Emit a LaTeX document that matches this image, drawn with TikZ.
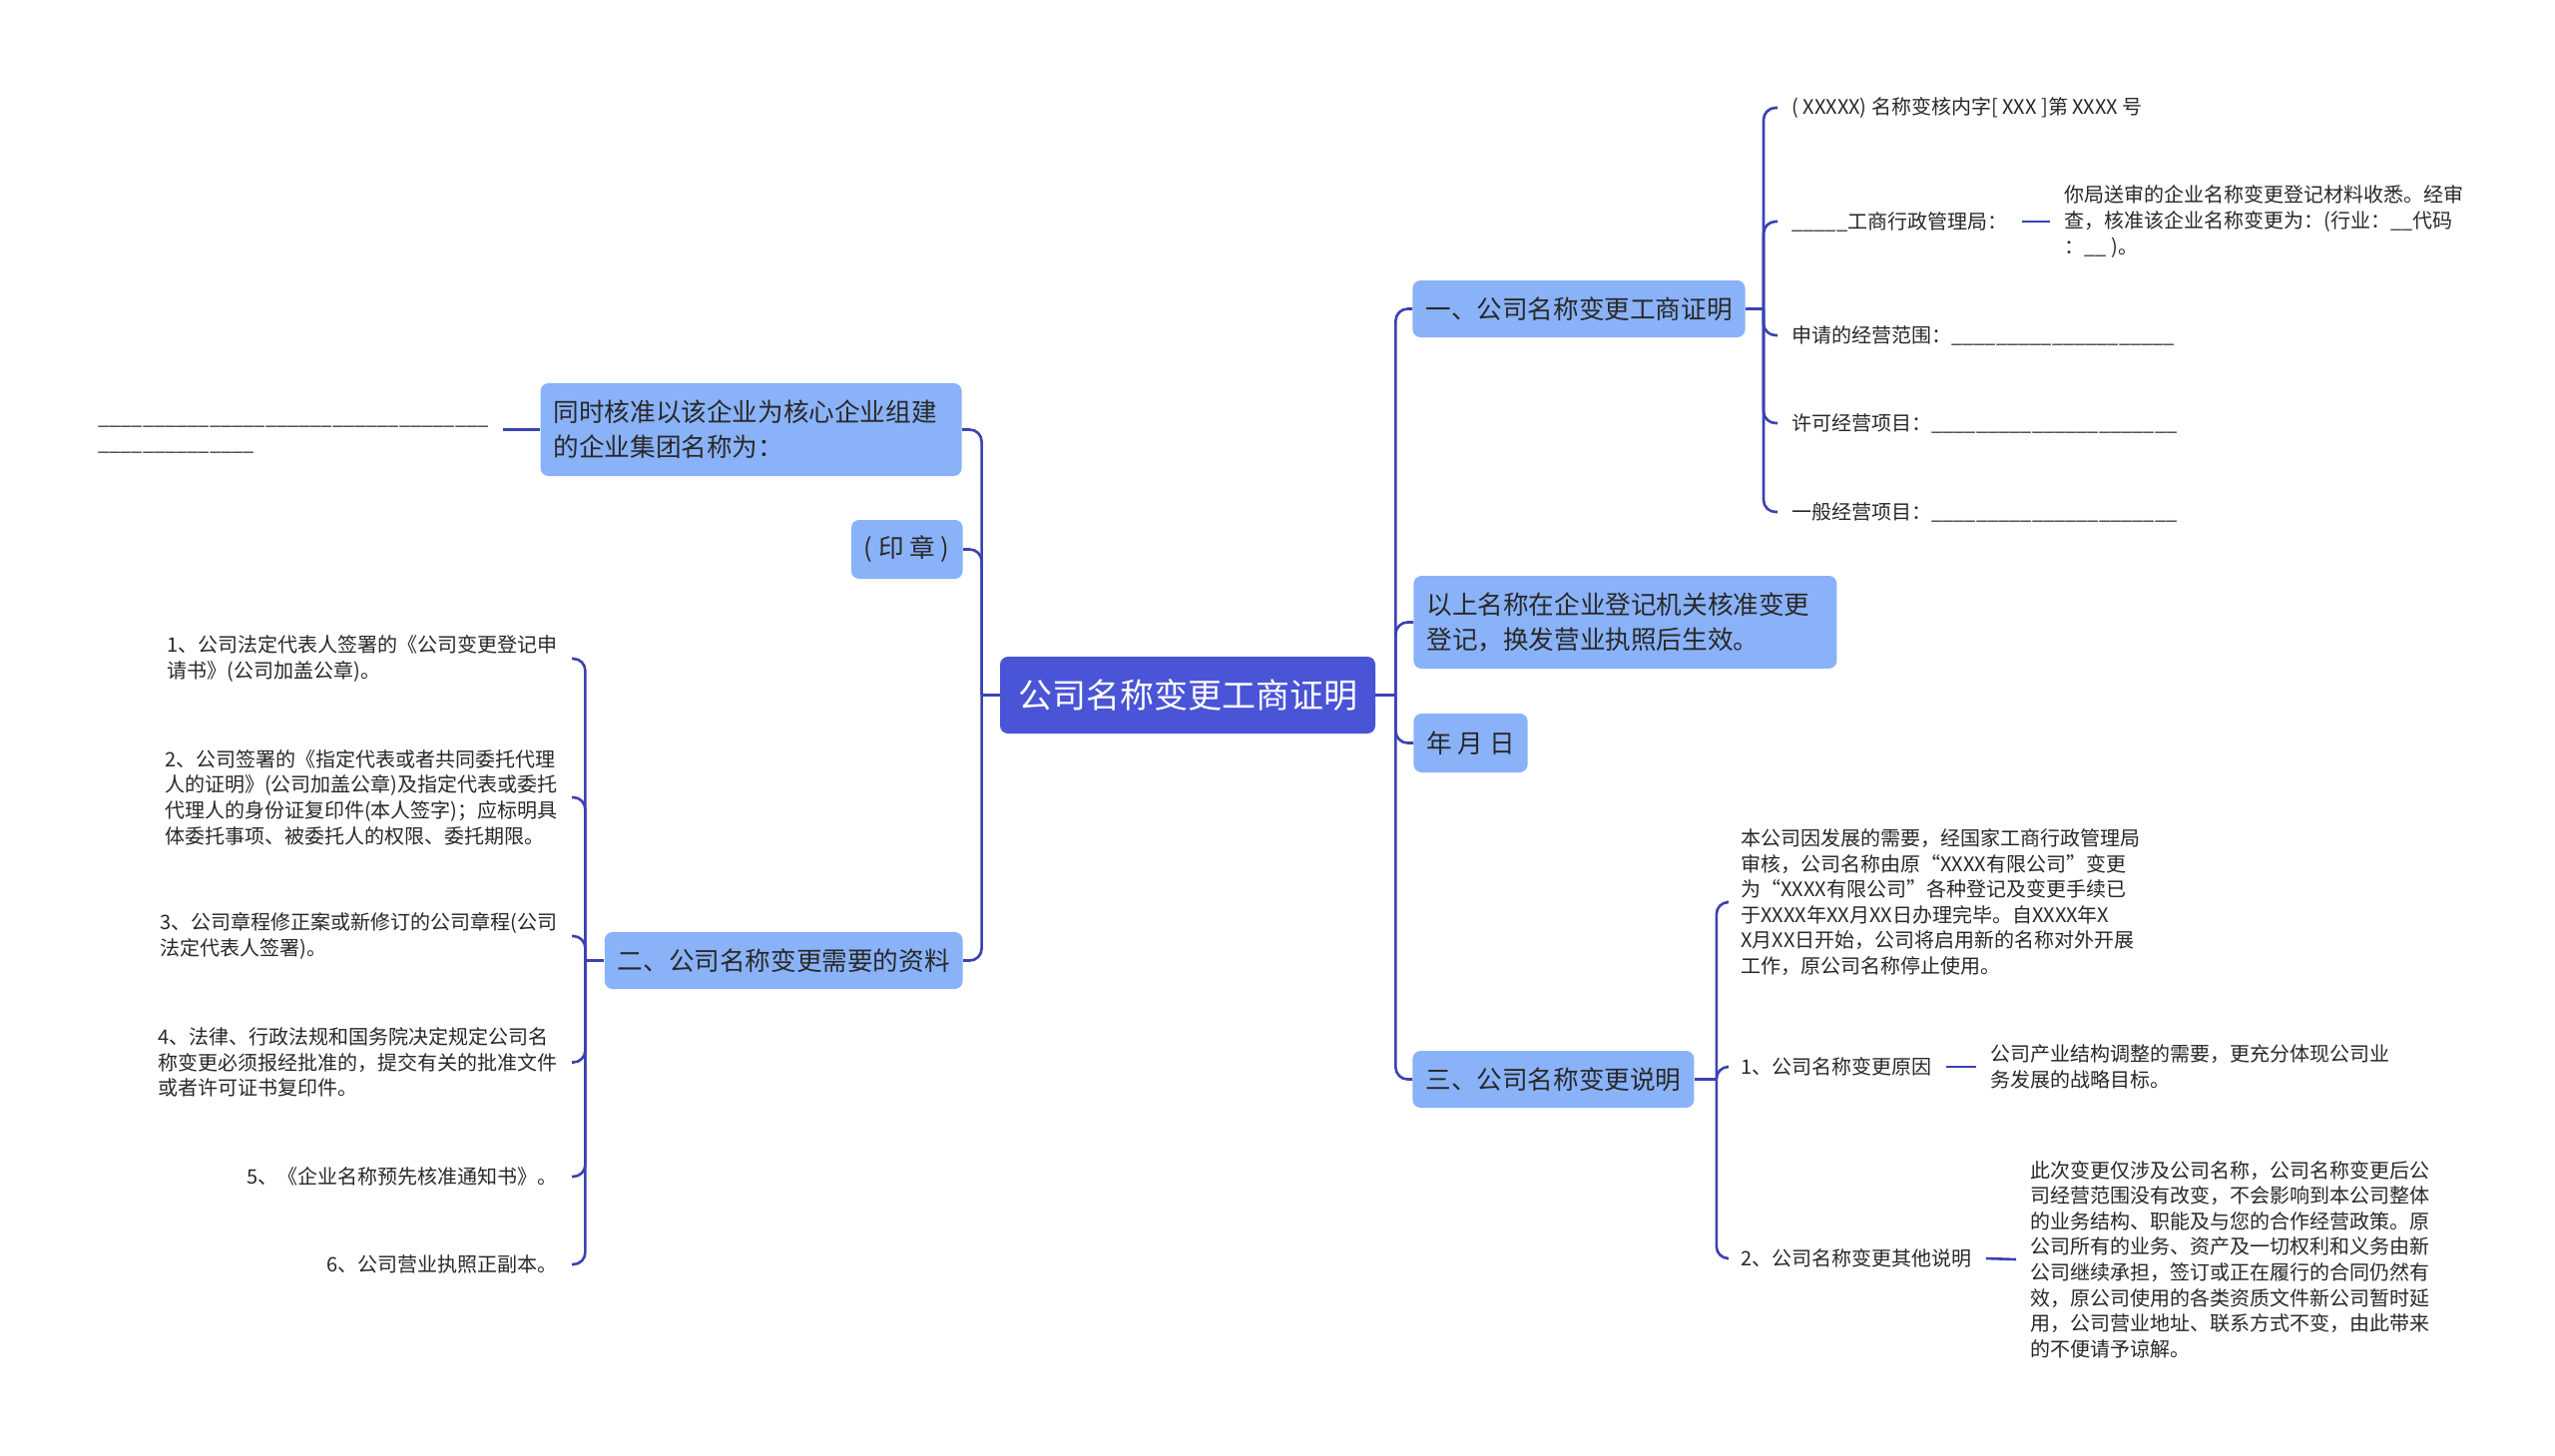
\documentclass[tikz,border=0pt]{standalone}
\usepackage{fontspec}
\setmainfont{Noto Sans CJK SC}
\usetikzlibrary{calc}
\definecolor{rootc}{RGB}{74,84,214}
\definecolor{lvc}{RGB}{138,178,248}
\definecolor{linec}{RGB}{58,66,178}
\definecolor{txt}{RGB}{40,40,40}
\begin{document}
\begin{tikzpicture}[x=0.5pt,y=-0.5pt,
 conn/.style={draw=linec, line width=1.3pt, rounded corners=6pt},
 rootbox/.style={fill=rootc, text=white, rounded corners=4pt, font=\fontsize{17pt}{20pt}\selectfont, minimum width=188pt, minimum height=38.5pt, inner sep=0pt},
 lvbox/.style={fill=lvc, text=txt, rounded corners=4pt, font=\fontsize{12.8pt}{17.5pt}\selectfont, align=left, inner xsep=6.5pt, inner ysep=2pt, minimum height=28.5pt},
 leaf/.style={text=txt, font=\fontsize{10pt}{12.8pt}\selectfont, align=left, inner xsep=7pt, inner ysep=2pt}
]
\fill[white] (0,0) rectangle (2560,1458);
\useasboundingbox (0,0) rectangle (2560,1458);

% root
\node[rootbox] (root) at (1190,696.5) {公司名称变更工商证明};

% right level 1
\node[lvbox, anchor=west] (n1) at (1415,309.5) {一、公司名称变更工商证明};
\node[lvbox, anchor=west, text width=199pt, minimum height=46.5pt] (n2) at (1416,623.5) {以上名称在企业登记机关核准变更\\登记，换发营业执照后生效。};
\node[lvbox, anchor=west, minimum height=29.5pt] (n3) at (1416,744.5) {年 月 日};
\node[lvbox, anchor=west] (n4) at (1415,1081.5) {三、公司名称变更说明};

% left level 1
\node[lvbox, anchor=east, text width=198pt, minimum height=46.5pt] (m1) at (964,430.5) {同时核准以该企业为核心企业组建\\的企业集团名称为：};
\node[lvbox, anchor=east, minimum height=29.5pt] (m2) at (965,550.5) {( 印 章 )};
\node[lvbox, anchor=east] (m3) at (965,962.5) {二、公司名称变更需要的资料};

% leaves of n1
\node[leaf, anchor=west] (a1) at (1781,108) {( XXXXX) 名称变核内字[ XXX ]第 XXXX 号};
\node[leaf, anchor=west] (a2) at (1781,222) {\_\_\_\_\_工商行政管理局：};
\node[leaf, anchor=west] (a2d) at (2054,222) {你局送审的企业名称变更登记材料收悉。经审\\查，核准该企业名称变更为：(行业：\_\_代码\\：\_\_ )。};
\node[leaf, anchor=west] (a3) at (1781,336) {申请的经营范围：\_\_\_\_\_\_\_\_\_\_\_\_\_\_\_\_\_\_\_\_};
\node[leaf, anchor=west] (a4) at (1781,424) {许可经营项目：\_\_\_\_\_\_\_\_\_\_\_\_\_\_\_\_\_\_\_\_\_\_};
\node[leaf, anchor=west] (a5) at (1781,513) {一般经营项目：\_\_\_\_\_\_\_\_\_\_\_\_\_\_\_\_\_\_\_\_\_\_};

% leaves of n4
\node[leaf, anchor=west] (b1) at (1730,904) {本公司因发展的需要，经国家工商行政管理局\\审核，公司名称由原“XXXX有限公司”变更\\为“XXXX有限公司”各种登记及变更手续已\\于XXXX年XX月XX日办理完毕。自XXXX年X\\X月XX日开始，公司将启用新的名称对外开展\\工作，原公司名称停止使用。};
\node[leaf, anchor=west] (b2) at (1730,1069) {1、公司名称变更原因};
\node[leaf, anchor=west] (b2d) at (1980,1069) {公司产业结构调整的需要，更充分体现公司业\\务发展的战略目标。};
\node[leaf, anchor=west] (b3) at (1730,1261) {2、公司名称变更其他说明};
\node[leaf, anchor=west] (b3d) at (2020,1262) {此次变更仅涉及公司名称，公司名称变更后公\\司经营范围没有改变，不会影响到本公司整体\\的业务结构、职能及与您的合作经营政策。原\\公司所有的业务、资产及一切权利和义务由新\\公司继续承担，签订或正在履行的合同仍然有\\效，原公司使用的各类资质文件新公司暂时延\\用，公司营业地址、联系方式不变，由此带来\\的不便请予谅解。};

% left leaves
\node[leaf, anchor=east] (blank) at (504,440) {\_\_\_\_\_\_\_\_\_\_\_\_\_\_\_\_\_\_\_\_\_\_\_\_\_\_\_\_\_\_\_\_\_\_\_\\\_\_\_\_\_\_\_\_\_\_\_\_\_\_};
\node[leaf, anchor=east] (i1) at (573,660) {1、公司法定代表人签署的《公司变更登记申\\请书》(公司加盖公章)。};
\node[leaf, anchor=east] (i2) at (573,799) {2、公司签署的《指定代表或者共同委托代理\\人的证明》(公司加盖公章)及指定代表或委托\\代理人的身份证复印件(本人签字)；应标明具\\体委托事项、被委托人的权限、委托期限。};
\node[leaf, anchor=east] (i3) at (573,938) {3、公司章程修正案或新修订的公司章程(公司\\法定代表人签署)。};
\node[leaf, anchor=east] (i4) at (573,1064.5) {4、法律、行政法规和国务院决定规定公司名\\称变更必须报经批准的，提交有关的批准文件\\或者许可证书复印件。};
\node[leaf, anchor=east] (i5) at (573,1179) {5、《企业名称预先核准通知书》。};
\node[leaf, anchor=east] (i6) at (573,1267) {6、公司营业执照正副本。};

% junctions
\coordinate (jR) at ($(root.east)+(20,0)$);
\coordinate (jL) at ($(root.west)+(-18,0)$);
\coordinate (j1) at ($(n1.east)+(18,0)$);
\coordinate (j4) at ($(n4.east)+(22,0)$);
\coordinate (j3) at ($(m3.west)+(-19,0)$);

% connectors
\draw[conn] (root.east) -- (jR);
\draw[conn] (jR) |- (n1.west);
\draw[conn] (jR) |- (n2.west);
\draw[conn] (jR) |- (n3.west);
\draw[conn] (jR) |- (n4.west);

\draw[conn] (root.west) -- (jL);
\draw[conn] (jL) |- (m1.east);
\draw[conn] (jL) |- (m2.east);
\draw[conn] (jL) |- (m3.east);

\draw[conn] (n1.east) -- (j1);
\draw[conn] (j1) |- (a1.west);
\draw[conn] (j1) |- (a2.west);
\draw[conn] (j1) |- (a3.west);
\draw[conn] (j1) |- (a4.west);
\draw[conn] (j1) |- (a5.west);
\draw[conn] (a2.east) -- (a2d.west);

\draw[conn] (n4.east) -- (j4);
\draw[conn] (j4) |- (b1.west);
\draw[conn] (j4) |- (b2.west);
\draw[conn] (j4) |- (b3.west);
\draw[conn] (b2.east) -- (b2d.west);
\draw[conn] (b3.east) -- (b3d.west);

\draw[conn] (m1.west) -- (m1.west -| blank.east);

\draw[conn] (m3.west) -- (j3);
\draw[conn] (j3) |- (i1.east);
\draw[conn] (j3) |- (i2.east);
\draw[conn] (j3) |- (i3.east);
\draw[conn] (j3) |- (i4.east);
\draw[conn] (j3) |- (i5.east);
\draw[conn] (j3) |- (i6.east);
\end{tikzpicture}
\end{document}
